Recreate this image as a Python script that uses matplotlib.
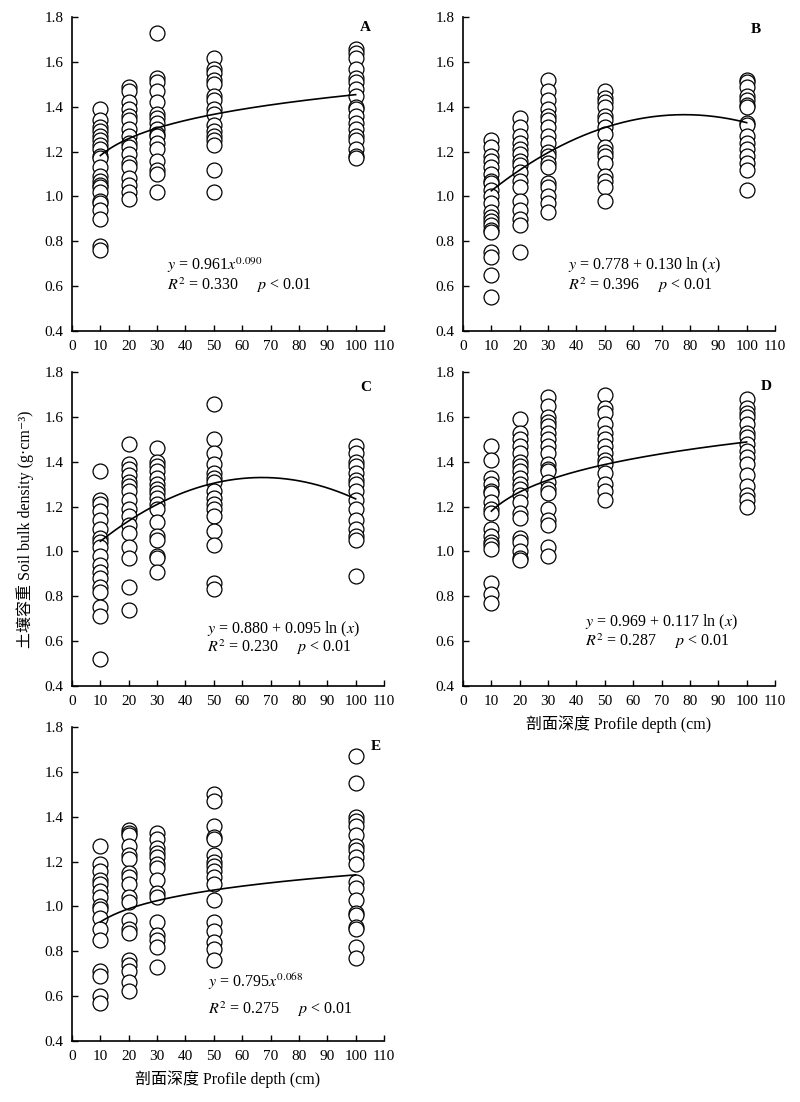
import numpy as np
import matplotlib
matplotlib.use("Agg")
import matplotlib.pyplot as plt

plt.rcParams['font.family'] = ['Liberation Serif', 'Noto Sans CJK SC', 'DejaVu Sans']
plt.rcParams['mathtext.fontset'] = 'stix'

# sampling depths (cm)
depths = [10, 20, 30, 50, 100]

# soil bulk density (g/cm3) per depth
A_density = [
    [1.39, 1.34, 1.31, 1.29, 1.27, 1.25, 1.23, 1.21, 1.18, 1.17, 1.13, 1.09, 1.07, 1.05, 1.04, 1.02, 0.98, 0.97, 0.94, 0.90, 0.78, 0.76],
    [1.49, 1.47, 1.42, 1.39, 1.36, 1.34, 1.30, 1.27, 1.24, 1.22, 1.19, 1.15, 1.13, 1.08, 1.05, 1.02, 0.99],
    [1.73, 1.53, 1.51, 1.47, 1.42, 1.37, 1.35, 1.33, 1.30, 1.28, 1.27, 1.24, 1.21, 1.16, 1.12, 1.10, 1.02],
    [1.62, 1.57, 1.55, 1.52, 1.50, 1.45, 1.43, 1.39, 1.37, 1.32, 1.29, 1.27, 1.25, 1.23, 1.12, 1.02],
    [1.66, 1.64, 1.62, 1.57, 1.53, 1.51, 1.48, 1.45, 1.40, 1.39, 1.36, 1.33, 1.30, 1.27, 1.25, 1.21, 1.18, 1.17],
]
B_density = [
    [1.25, 1.22, 1.18, 1.16, 1.13, 1.10, 1.07, 1.06, 1.03, 1.00, 0.97, 0.93, 0.91, 0.89, 0.87, 0.85, 0.84, 0.75, 0.73, 0.65, 0.55],
    [1.35, 1.31, 1.27, 1.24, 1.21, 1.19, 1.16, 1.14, 1.11, 1.07, 1.04, 0.98, 0.94, 0.90, 0.87, 0.75],
    [1.52, 1.47, 1.43, 1.39, 1.36, 1.34, 1.31, 1.27, 1.24, 1.20, 1.18, 1.15, 1.13, 1.06, 1.04, 1.00, 0.97, 0.93],
    [1.47, 1.44, 1.42, 1.40, 1.36, 1.34, 1.31, 1.28, 1.22, 1.20, 1.18, 1.15, 1.09, 1.07, 1.04, 0.98],
    [1.52, 1.51, 1.49, 1.45, 1.43, 1.41, 1.40, 1.33, 1.32, 1.27, 1.24, 1.21, 1.18, 1.15, 1.12, 1.03],
]
C_density = [
    [1.36, 1.23, 1.21, 1.18, 1.14, 1.10, 1.06, 1.04, 1.02, 0.98, 0.94, 0.91, 0.88, 0.84, 0.82, 0.75, 0.71, 0.52],
    [1.48, 1.39, 1.37, 1.34, 1.31, 1.29, 1.27, 1.23, 1.19, 1.16, 1.12, 1.08, 1.02, 0.97, 0.84, 0.74],
    [1.46, 1.40, 1.38, 1.36, 1.33, 1.30, 1.28, 1.26, 1.24, 1.21, 1.19, 1.13, 1.07, 1.05, 0.98, 0.97, 0.91],
    [1.66, 1.50, 1.44, 1.39, 1.35, 1.33, 1.31, 1.27, 1.24, 1.21, 1.19, 1.16, 1.09, 1.03, 0.86, 0.83],
    [1.47, 1.44, 1.40, 1.38, 1.35, 1.32, 1.30, 1.27, 1.23, 1.19, 1.14, 1.10, 1.07, 1.05, 0.89],
]
D_density = [
    [1.47, 1.41, 1.33, 1.30, 1.27, 1.26, 1.22, 1.19, 1.17, 1.10, 1.07, 1.04, 1.03, 1.01, 0.86, 0.81, 0.77],
    [1.59, 1.53, 1.50, 1.47, 1.44, 1.40, 1.38, 1.36, 1.33, 1.30, 1.28, 1.25, 1.22, 1.17, 1.15, 1.06, 1.04, 1.00, 0.97, 0.96],
    [1.69, 1.65, 1.60, 1.58, 1.56, 1.53, 1.50, 1.47, 1.44, 1.39, 1.37, 1.36, 1.31, 1.28, 1.26, 1.19, 1.14, 1.12, 1.02, 0.98],
    [1.70, 1.64, 1.62, 1.57, 1.53, 1.50, 1.47, 1.44, 1.41, 1.39, 1.35, 1.30, 1.27, 1.23],
    [1.68, 1.64, 1.62, 1.60, 1.57, 1.53, 1.51, 1.48, 1.45, 1.42, 1.39, 1.34, 1.29, 1.25, 1.23, 1.20],
]
E_density = [
    [1.27, 1.19, 1.16, 1.12, 1.10, 1.07, 1.04, 1.00, 0.99, 0.95, 0.90, 0.85, 0.71, 0.69, 0.60, 0.57],
    [1.34, 1.33, 1.32, 1.27, 1.23, 1.21, 1.15, 1.13, 1.10, 1.04, 1.02, 0.94, 0.90, 0.88, 0.76, 0.74, 0.71, 0.66, 0.62],
    [1.33, 1.30, 1.26, 1.24, 1.22, 1.19, 1.17, 1.12, 1.06, 1.04, 0.93, 0.87, 0.85, 0.82, 0.73],
    [1.50, 1.47, 1.36, 1.31, 1.30, 1.23, 1.20, 1.18, 1.16, 1.13, 1.10, 1.03, 0.93, 0.89, 0.84, 0.81, 0.76],
    [1.67, 1.55, 1.40, 1.38, 1.36, 1.32, 1.27, 1.25, 1.22, 1.19, 1.11, 1.08, 1.03, 0.97, 0.96, 0.91, 0.90, 0.82, 0.77],
]

# fitted curves as drawn in the figure
# power: y = a * x^b ; peak: y = top + k * (x - xpeak)^2
A_fit = ("power", 0.961, 0.090)
B_fit = ("peak", 1.365, -7.35e-5, 78)
C_fit = ("peak", 1.330, -8.77e-5, 67)
D_fit = ("power", 0.935, 0.101)
E_fit = ("power", 0.759, 0.0885)

A_eq = [r"$y$ = 0.961$x^{0.090}$", r"$R^2$ = 0.330     $p$ < 0.01"]
B_eq = [r"$y$ = 0.778 + 0.130 ln ($x$)", r"$R^2$ = 0.396     $p$ < 0.01"]
C_eq = [r"$y$ = 0.880 + 0.095 ln ($x$)", r"$R^2$ = 0.230     $p$ < 0.01"]
D_eq = [r"$y$ = 0.969 + 0.117 ln ($x$)", r"$R^2$ = 0.287     $p$ < 0.01"]
E_eq = [r"$y$ = 0.795$x^{0.068}$", r"$R^2$ = 0.275     $p$ < 0.01"]

xlabel = "剖面深度 Profile depth (cm)"
ylabel = "土壤容重 Soil bulk density (g·cm⁻³)"


def fit_curve(fit, x):
    if fit[0] == "power":
        return fit[1] * x ** fit[2]
    return fit[1] + fit[2] * (x - fit[3]) ** 2


def draw_panel(ax, density, fit, eq, letter, eq_pos, letter_pos):
    for d, vals in zip(depths, density):
        ax.scatter([d] * len(vals), vals, s=115, facecolor='white',
                   edgecolor='black', linewidth=0.9, zorder=2)
    xs = np.linspace(10, 100, 200)
    ax.plot(xs, fit_curve(fit, xs), color='black', lw=1.2, zorder=3)

    ax.set_xlim(0, 110)
    ax.set_ylim(0.4, 1.8)
    ax.set_xticks(range(0, 111, 10))
    ax.set_yticks(np.arange(0.4, 1.81, 0.2))
    ax.set_yticklabels([f"{v:.1f}" for v in np.arange(0.4, 1.81, 0.2)])
    ax.tick_params(direction='in', length=4.5, width=1, labelsize=11)
    ax.tick_params(axis='x', pad=7)
    ax.tick_params(axis='y', pad=6)
    for s in ['top', 'right']:
        ax.spines[s].set_visible(False)
    for s in ['left', 'bottom']:
        ax.spines[s].set_linewidth(1.2)
    ax.patch.set_alpha(0)

    ax.text(eq_pos[0], eq_pos[1], eq[0], transform=ax.transAxes, fontsize=11.5,
            va='baseline', ha='left')
    ax.text(eq_pos[0], eq_pos[2], eq[1], transform=ax.transAxes, fontsize=11.5,
            va='baseline', ha='left')
    ax.text(letter_pos[0], letter_pos[1], letter, transform=ax.transAxes,
            fontsize=11, fontweight='bold', ha='center', va='center')


fig = plt.figure(figsize=(8, 11.02), dpi=100)
W, H = 800, 1102
aw, ah = 312, 313.4


def make_axes(left, top):
    return fig.add_axes([left / W, 1 - (top + ah) / H, aw / W, ah / H])


axA = make_axes(72, 17.3)
axB = make_axes(463, 17.3)
axC = make_axes(72, 372.3)
axD = make_axes(463, 372.3)
axE = make_axes(72, 727.3)

draw_panel(axA, A_density, A_fit, A_eq, "A", (0.304, 0.194, 0.130), (0.94, 0.966))
draw_panel(axB, B_density, B_fit, B_eq, "B", (0.337, 0.196, 0.130), (0.94, 0.96))
draw_panel(axC, C_density, C_fit, C_eq, "C", (0.432, 0.167, 0.108), (0.943, 0.95))
draw_panel(axD, D_density, D_fit, D_eq, "D", (0.39, 0.188, 0.128), (0.971, 0.954))
draw_panel(axE, E_density, E_fit, E_eq, "E", (0.436, 0.172, 0.085), (0.974, 0.938))

axD.set_xlabel(xlabel, fontsize=11.5, labelpad=5)
axE.set_xlabel(xlabel, fontsize=11.5, labelpad=5)
axC.set_ylabel(ylabel, fontsize=11.5, labelpad=8)

fig.savefig("out.png", dpi=100)
